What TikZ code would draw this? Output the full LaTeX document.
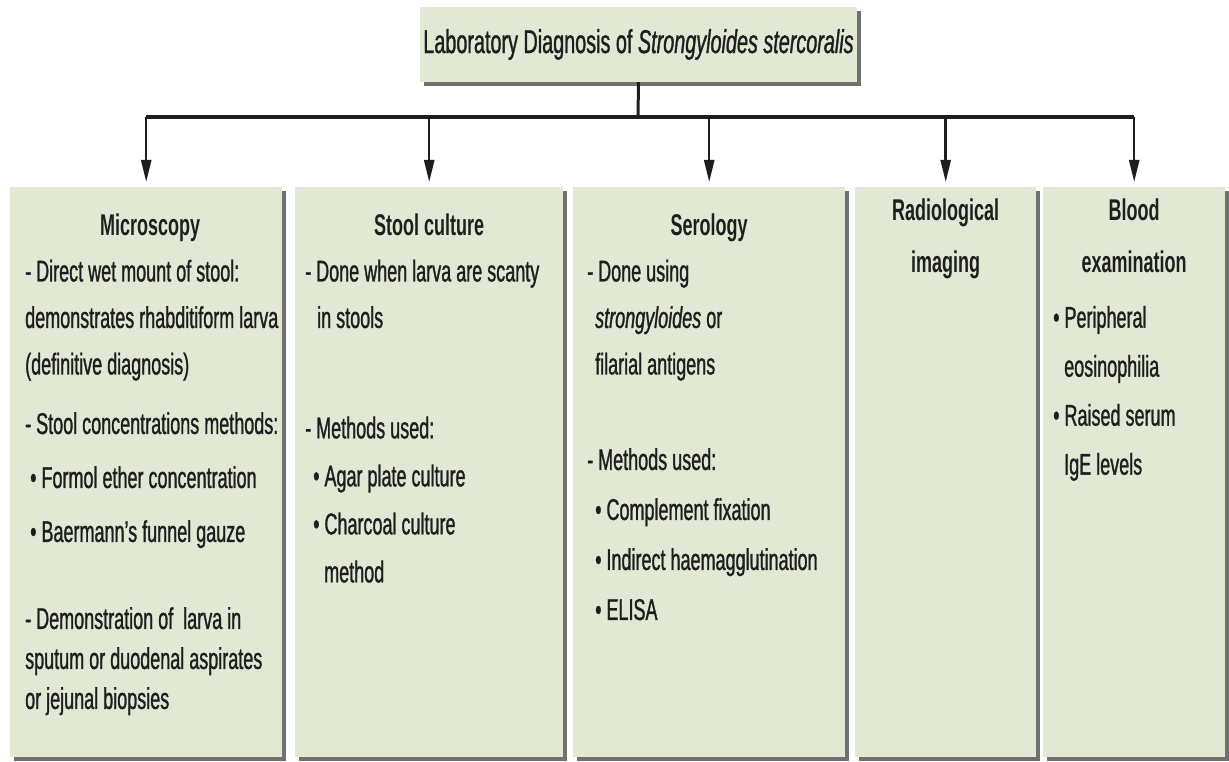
\documentclass[tikz,border=0pt]{standalone}
\usepackage{fontspec}
\setmainfont{Liberation Sans}[FakeStretch=0.6,UprightFeatures={FakeBold=1},ItalicFeatures={FakeBold=1}]
\usetikzlibrary{arrows.meta, shadows, calc, positioning}

\begin{document}
\begin{tikzpicture}
		[x=1pt,y=-1pt,line cap=butt,
		%Styles
		panel/.style={fill=panelfill,inner sep=0pt,anchor=north west,minimum height=570pt,minimum width=#1,
			drop shadow={shadow xshift=4pt,shadow yshift=-4pt,fill=shadowgray,opacity=1}},
		title box/.style={fill=panelfill,inner sep=0pt,minimum width=437pt,minimum height=75pt,text=textgray,
			font=\fontsize{33}{40}\selectfont,
			drop shadow={shadow xshift=4pt,shadow yshift=-4pt,fill=shadowgray,opacity=1}},
		heading/.style={anchor=north,align=center,inner sep=0pt,text=textgray,
			font=\bfseries\fontsize{30}{52}\selectfont,execute at begin node=\strut},
		body/.style={anchor=north west,align=left,inner sep=0pt,text=textgray,
			font=\fontsize{30}{#1}\selectfont,execute at begin node=\strut},
		body/.default=46.5,
		link/.style={line width=3pt,draw=linegray},
		bus/.style={line width=4pt,draw=linegray},
		arrow/.style={line width=2.5pt,draw=linegray,-{Triangle[length=22pt,width=10pt]},shorten >=5pt}
		]
		
		%Colors
		\definecolor{panelfill}{RGB}{225,233,213}
		\definecolor{shadowgray}{RGB}{112,112,112}
		\definecolor{textgray}{RGB}{30,30,30}
		\definecolor{linegray}{RGB}{30,30,30}
		
		\useasboundingbox (0,0) rectangle (1229,762);
		
		%The graphic
		
		\node[title box] (title) at (638.5,44.5) {Laboratory Diagnosis of \textit{Strongyloides stercoralis}};
		
		\node[panel=272pt] (micro) at (10,187) {};
		\node[panel=268pt] (culture) at (295,187) {};
		\node[panel=272pt] (sero) at (573,187) {};
		\node[panel=181pt] (radio) at (855,187) {};
		\node[panel=182pt] (blood) at (1043,187) {};
		
		\coordinate (bus) at (638,117);
		
		\draw[link] (title.south) -- (bus);
		\draw[bus] (micro.north |- bus) -- (blood.north |- bus);
		\foreach \b in {micro,culture,sero,radio,blood}
			\draw[arrow] (\b.north |- bus) -- (\b.north);
		
		%Headings
		\node[heading] (micro head) at ($(micro.north)+(4,11.6)$) {Microscopy};
		\node[heading] (culture head) at ($(culture.north)+(0,11.6)$) {Stool culture};
		\node[heading] (sero head) at ($(sero.north)+(0,11.6)$) {Serology};
		\node[heading] (radio head) at ($(radio.north)+(0,11.6)$) {Radiological\\imaging};
		\node[heading] (blood head) at ($(blood.north)+(0,11.6)$) {Blood\\examination};
		
		%Microscopy
		\node[body] (micro a) at ($(micro.north west)+(15,72.5)$) {- Direct wet mount of stool:\\demonstrates rhabditiform larva\\(definitive diagnosis)};
		\node[body=54] (micro b) at ($(micro.north west)+(15,225)$) {- Stool concentrations methods:\\\hspace{5pt}\textbullet\ Formol ether concentration\\\hspace{5pt}\textbullet\ Baermann's funnel gauze};
		\node[body=40] (micro c) at ($(micro.north west)+(15,420)$) {- Demonstration of\ \ larva in\\sputum or duodenal aspirates\\or jejunal biopsies};
		
		%Stool culture
		\node[body] (culture a) at ($(culture.north west)+(10,72.5)$) {- Done when larva are scanty\\\hspace{12pt}in stools};
		\node[body=48] (culture b) at ($(culture.north west)+(10,229.4)$) {- Methods used:\\\hspace{8pt}\textbullet\ Agar plate culture\\\hspace{8pt}\textbullet\ Charcoal culture\\\hspace{19pt}method};
		
		%Serology
		\node[body] (sero a) at ($(sero.north west)+(14,72.5)$) {- Done using\\\hspace{8pt}\textit{strongyloides} or\\\hspace{8pt}filarial antigens};
		\node[body=50] (sero b) at ($(sero.north west)+(14,261)$) {- Methods used:\\\hspace{8pt}\textbullet\ Complement fixation\\\hspace{8pt}\textbullet\ Indirect haemagglutination\\\hspace{8pt}\textbullet\ ELISA};
		
		%Blood examination
		\node[body=49] (blood a) at ($(blood.north west)+(10,118.7)$) {\textbullet\ Peripheral\\\hspace{11pt}eosinophilia\\\textbullet\ Raised serum\\\hspace{11pt}IgE levels};
		
	\end{tikzpicture}
\end{document}
